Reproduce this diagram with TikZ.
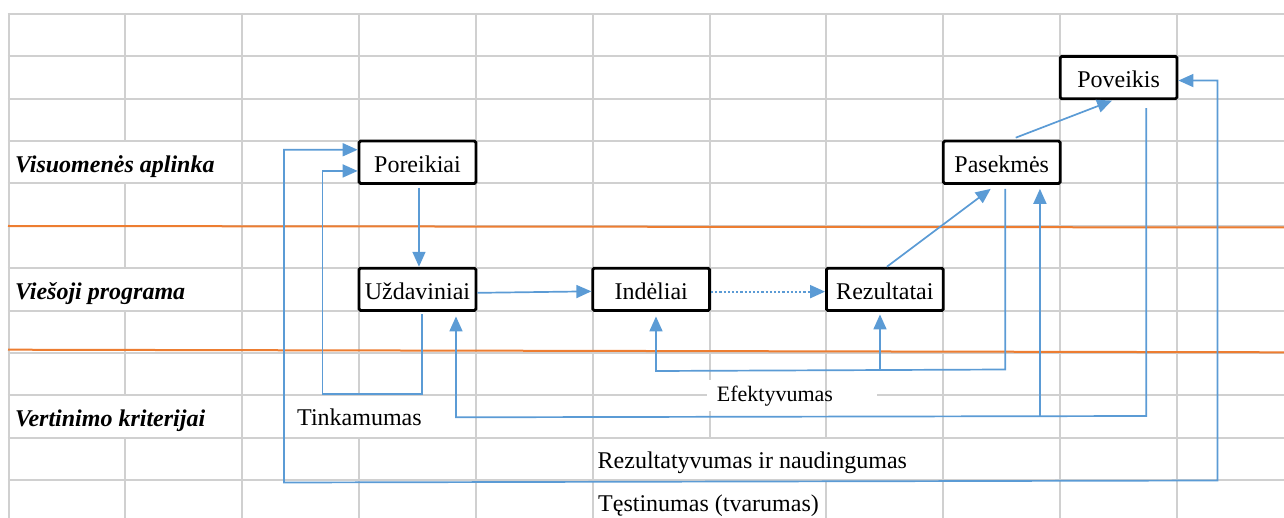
\documentclass[tikz,border=0pt]{standalone}
\usepackage{fontspec}
\setmainfont{Liberation Serif}
\usetikzlibrary{arrows.meta}
\definecolor{gridgray}{HTML}{D0D0D0}
\definecolor{lineblue}{HTML}{5B9BD5}
\definecolor{orangeline}{HTML}{ED7D31}
\tikzset{bt/.tip={Triangle[length=15pt,width=13pt]}}
\begin{document}
\begin{tikzpicture}[x=1pt,y=-1pt,
  gridline/.style={draw=gridgray,line width=2pt},
  sepline/.style={draw=orangeline,line width=2pt},
  conn/.style={draw=lineblue,line width=1.7pt,-bt},
  twoway/.style={draw=lineblue,line width=1.7pt,bt-bt},
  dotconn/.style={conn,line width=2pt,dash pattern=on 2.2pt off 2pt},
  box/.style={draw=black,line width=2.8pt,fill=white,rounded corners=1.5pt,
    minimum width=116.85pt,minimum height=42.36pt,inner sep=0pt,
    text height=20.5pt,text depth=0pt,font=\fontsize{24}{28}\selectfont},
  lbl/.style={anchor=base west,inner sep=0pt,font=\fontsize{24}{28}\selectfont},
  rowlbl/.style={lbl,font=\fontsize{24}{28}\selectfont\bfseries\itshape}]
\useasboundingbox (0,0) rectangle (1284,518);
% grid: horizontal
\foreach \yy in {14,56.36,98.72,141.08,183.44,225.8,268.16,310.52,352.88,437.6,479.96}
  \draw[gridline] (7.5,\yy) -- (1284,\yy);
\draw[gridline] (7.5,395.24) -- (707,395.24);
\draw[gridline] (877,395.24) -- (1284,395.24);
% grid: vertical
\foreach \xx in {8.5,242.2,475.9,592.75,943.3,1060.15,1177}
  \draw[gridline] (\xx,13) -- (\xx,518);
\draw[gridline] (125.35,13) -- (125.35,141.08);
\draw[gridline] (125.35,183.44) -- (125.35,268.16);
\draw[gridline] (125.35,310.52) -- (125.35,395.24);
\draw[gridline] (125.35,437.6) -- (125.35,518);
\draw[gridline] (359.05,13) -- (359.05,395.24);
\draw[gridline] (359.05,437.6) -- (359.05,518);
\draw[gridline] (709.6,13) -- (709.6,380);
\draw[gridline] (709.6,411) -- (709.6,437.6);
\draw[gridline] (826.45,13) -- (826.45,437.6);
\draw[gridline] (826.45,479.96) -- (826.45,518);
% orange separators
\draw[sepline] (8,226) -- (1284,227.5);
\draw[sepline] (8,349.7) -- (1284,352.3);
% boxes
\node[box] (por) at (417.48,162.26) {Poreikiai};
\node[box] (uzd) at (417.48,289.34) {Uždaviniai};
\node[box] (ind) at (651.18,289.34) {Indėliai};
\node[box] (rez) at (884.88,289.34) {Rezultatai};
\node[box] (pas) at (1001.73,162.26) {Pasekmės};
\node[box] (pov) at (1118.58,77.54) {Poveikis};
% labels
\node[rowlbl] (l1) at (15,172.7) {Visuomenės aplinka};
\node[rowlbl] (l2) at (15,299.7) {Viešoji programa};
\node[rowlbl] (l3) at (15,426.3) {Vertinimo kriterijai};
\node[lbl] (t1) at (297,425.5) {Tinkamumas};
\node[lbl,font=\fontsize{22}{26}\selectfont] (t2) at (716.7,401.7) {Efektyvumas};
\node[lbl] (t3) at (597.5,468.3) {Rezultatyvumas ir naudingumas};
\node[lbl] (t4) at (598,511.7) {Tęstinumas (tvarumas)};
% main flow
\draw[conn] ([xshift=1.5pt,yshift=-3pt]por.south) -- ([xshift=1.5pt]uzd.north);
\draw[conn] ([yshift=-3.5pt]uzd.east) -- ([yshift=-2pt]ind.west);
\draw[dotconn] ([yshift=-2.3pt]ind.east) -- ([yshift=-2.3pt]rez.west);
\draw[conn] ([xshift=2pt]rez.north) -- ([xshift=-11pt,yshift=-4pt]pas.south);
\draw[conn] ([xshift=14pt,yshift=2pt]pas.north) -- ([xshift=-6.5pt,yshift=-0.5pt]pov.south);
% Tinkamumas
\draw[conn] ([xshift=4.8pt,yshift=-2.5pt]uzd.south) |- (322.5,394.3) |- ([yshift=-8.7pt]por.west);
% Testinumas
\draw[twoway] ([yshift=12.5pt]por.west) -| (284,482.5) -- (1217.5,480.5) |- ([yshift=-3pt]pov.east);
% Efektyvumas
\coordinate (efR) at (880,370.2);
\draw[conn] ([xshift=3.5pt,yshift=-4pt]pas.south) -- (1005.2,369.5) -- (656,371) -- ([xshift=4.8pt,yshift=-4.5pt]ind.south);
\draw[conn] (efR) -- ([xshift=-4.9pt,yshift=-2.5pt]rez.south);
% Rezultatyvumas
\coordinate (rezB) at (1039.9,416.2);
\draw[conn] ([xshift=27.7pt,yshift=-8pt]pov.south) -- (1146.3,416) -- (456,417.3) -- ([xshift=38.5pt,yshift=-4.5pt]uzd.south);
\draw[conn] (rezB) -- ([xshift=38.2pt,yshift=-4pt]pas.south);
\end{tikzpicture}
\end{document}
